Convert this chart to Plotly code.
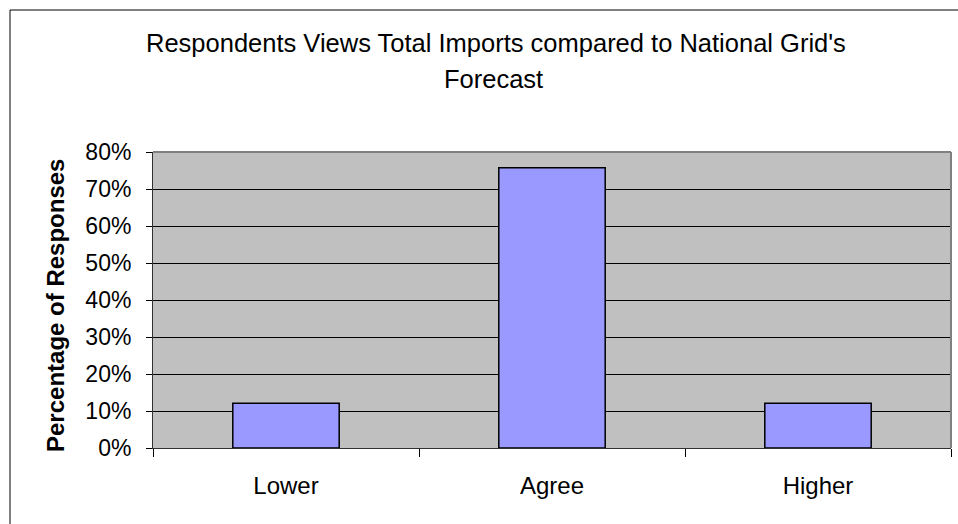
import plotly.graph_objects as go

# Survey results: share of respondents per view
categories = ["Lower", "Agree", "Higher"]
shares = [4 / 33, 25 / 33, 4 / 33]
y_ticks = [0, 0.1, 0.2, 0.3, 0.4, 0.5, 0.6, 0.7, 0.8]

title_line1 = "Respondents Views Total Imports compared to National Grid's"
title_line2 = "Forecast"
y_title = "Percentage of Responses"

W, H = 958, 524
L, R, T, B = 153, 7, 152, 76
pw, ph = W - L - R, H - T - B


def px_x(x):
    return (x - L) / pw


def px_y(y):
    return (H - B - y) / ph


font = "Liberation Sans, Arial, sans-serif"

fig = go.Figure(
    go.Bar(
        x=categories,
        y=shares,
        width=0.4,
        marker=dict(color="#9999FF", line=dict(color="#000000", width=1.5)),
        hoverinfo="x+y",
    )
)

fig.update_layout(
    width=W,
    height=H,
    margin=dict(l=L, r=R, t=T, b=B, pad=0),
    paper_bgcolor="white",
    plot_bgcolor="#C0C0C0",
    showlegend=False,
    font=dict(family=font, size=24, color="black"),
    xaxis=dict(
        type="category",
        tickson="boundaries",
        ticks="outside",
        ticklen=8,
        tickcolor="black",
        tickwidth=1,
        showline=True,
        linecolor="#303030",
        linewidth=1,
        showgrid=False,
        tickfont=dict(size=24),
        ticklabelstandoff=16,
        range=[-0.5, 2.5],
    ),
    yaxis=dict(
        range=[0, 0.8],
        tickvals=y_ticks,
        tickformat=".0%",
        ticks="outside",
        ticklen=6,
        tickcolor="black",
        showline=True,
        linecolor="#303030",
        linewidth=1,
        showgrid=True,
        gridcolor="black",
        gridwidth=1,
        zeroline=False,
        tickfont=dict(size=23),
        ticklabelstandoff=10,
    ),
    shapes=[
        # chart area border (extends past the right and bottom edges)
        dict(type="rect", xref="paper", yref="paper",
             x0=px_x(10), x1=px_x(1000), y0=px_y(540), y1=px_y(10),
             line=dict(color="black", width=1), fillcolor="rgba(0,0,0,0)", layer="below"),
        # plot area frame top and right
        dict(type="line", xref="paper", yref="paper", x0=0, x1=1, y0=1, y1=1,
             line=dict(color="#808080", width=2)),
        dict(type="line", xref="paper", yref="paper", x0=1, x1=1, y0=0, y1=1,
             line=dict(color="#808080", width=2)),
    ],
    annotations=[
        dict(text=title_line1, xref="paper", yref="paper", x=px_x(496), y=px_y(43),
             showarrow=False, xanchor="center", yanchor="middle", font=dict(size=25.5)),
        dict(text=title_line2, xref="paper", yref="paper", x=px_x(493), y=px_y(79),
             showarrow=False, xanchor="center", yanchor="middle", font=dict(size=25.5)),
        dict(text="<b>" + y_title + "</b>", xref="paper", yref="paper",
             x=px_x(55), y=px_y(306), textangle=-90, showarrow=False,
             xanchor="center", yanchor="middle", font=dict(size=24)),
    ],
)

fig.write_html("out.html")
